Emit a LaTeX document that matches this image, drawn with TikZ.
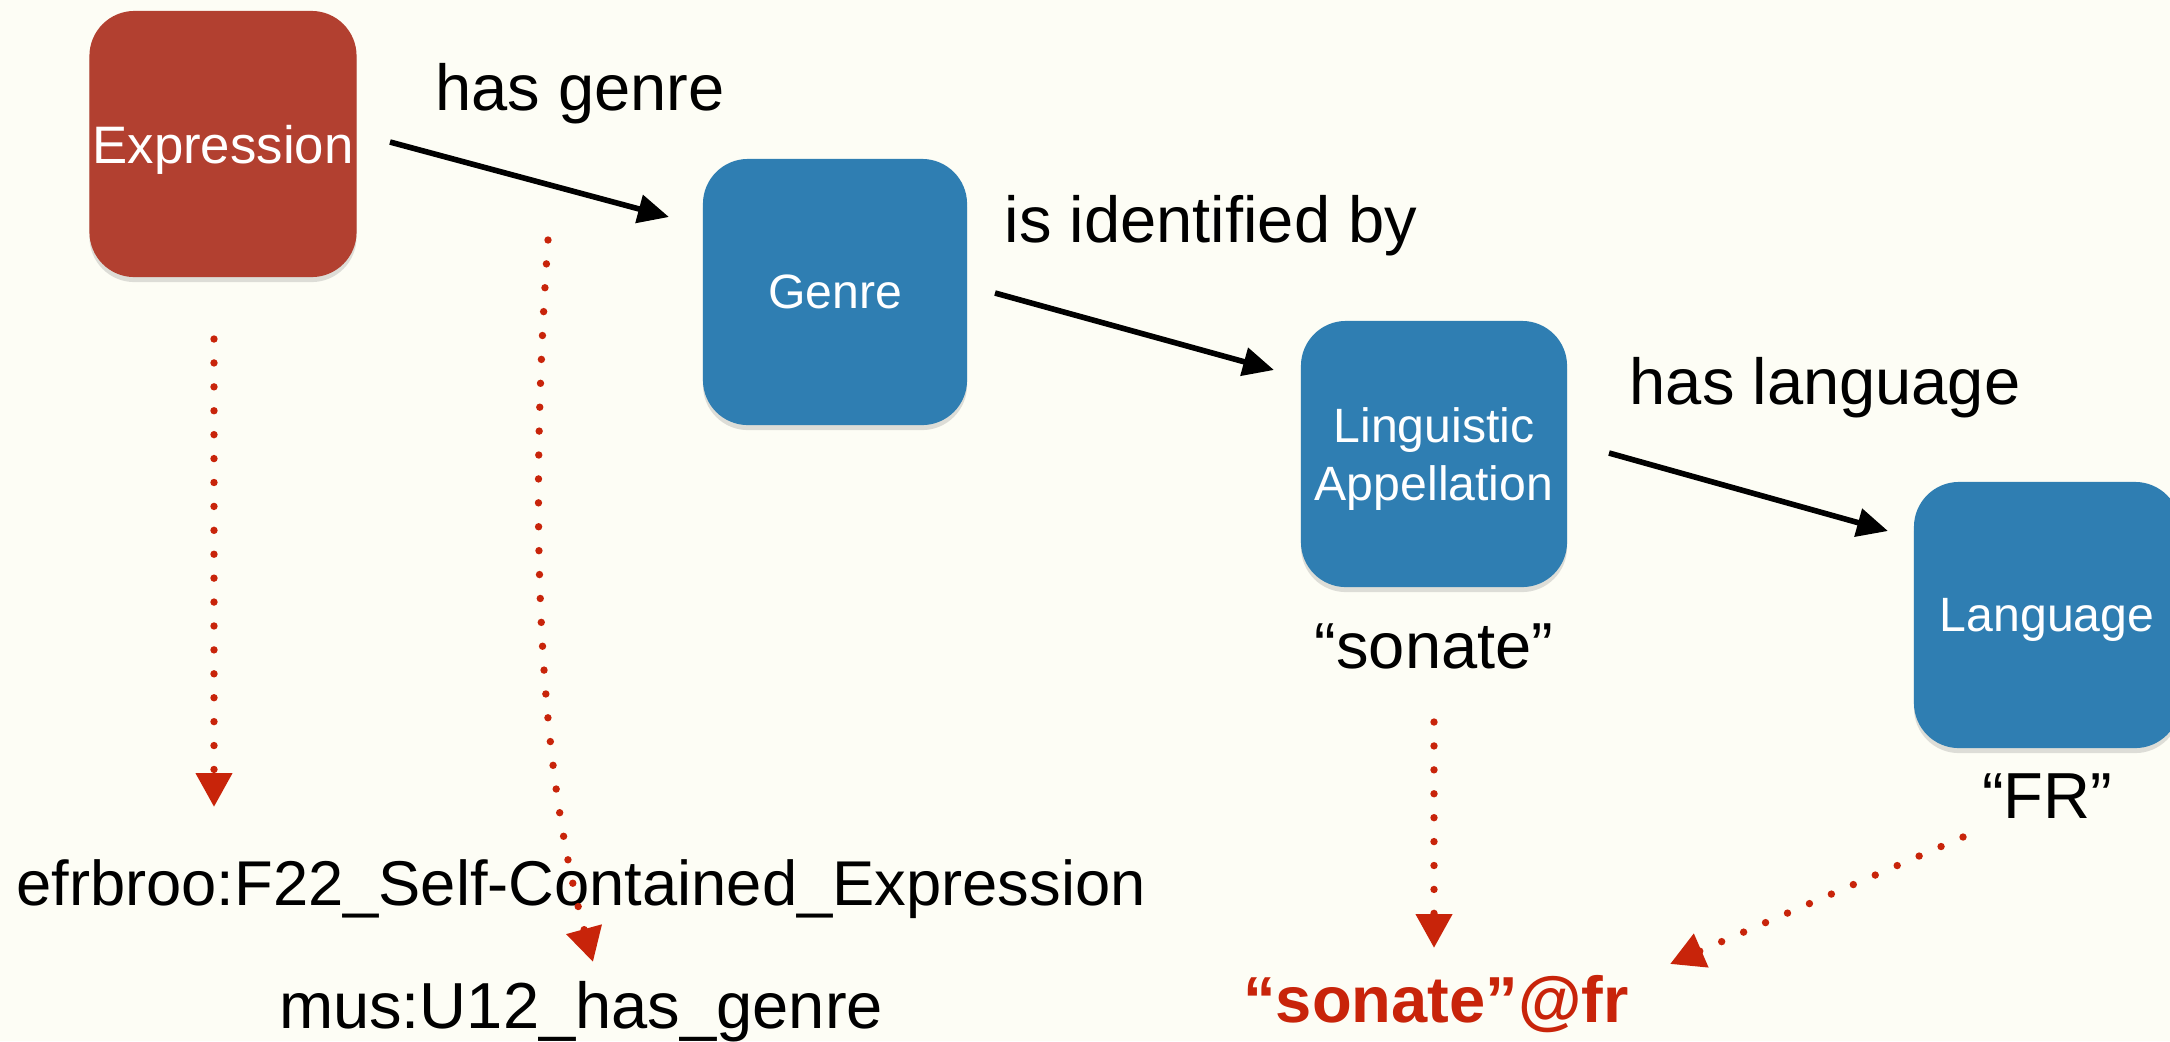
\documentclass[tikz,border=0pt]{standalone}
\usepackage{fontspec}
\setmainfont{Liberation Sans}
\usetikzlibrary{arrows.meta,shadows}
\definecolor{bg}{RGB}{253,253,245}
\definecolor{exprred}{RGB}{178,64,48}
\definecolor{boxblue}{RGB}{47,126,178}
\definecolor{dotred}{RGB}{200,36,10}
\tikzset{
 box/.style={rounded corners=0.45cm, minimum height=2.66cm, inner sep=0pt, text=white, align=center, text depth=0pt,
   font=\fontsize{13.7pt}{16.5pt}\selectfont,
   drop shadow={shadow xshift=0pt, shadow yshift=-0.05cm, opacity=0.25}},
 lbl/.style={anchor=base, inner sep=0pt, font=\fontsize{18.5pt}{22pt}\selectfont},
 rel/.style={line width=1.6pt, -{Triangle[length=0.31cm,width=0.28cm]}},
 dotarrow/.style={dotred, line width=2.1pt, line cap=round, dash pattern=on 0pt off 6.8pt, -{Triangle[length=0.34cm,width=0.35cm]}},
}
\begin{document}
\begin{tikzpicture}[x=0.01cm,y=-0.01cm]
\fill[bg] (0,0) rectangle (2170,1041);
\useasboundingbox (0,0) rectangle (2170,1041);
% boxes
\node[box, fill=exprred, minimum width=2.67cm, font=\fontsize{15pt}{18pt}\selectfont] (expr) at (223,144) {Expression};
\node[box, fill=boxblue, minimum width=2.64cm] (genre) at (835,292) {Genre};
\node[box, fill=boxblue, minimum width=2.66cm] (ling) at (1434,454) {Linguistic\\Appellation};
\node[box, fill=boxblue, minimum width=2.66cm] (lang) at (2047,615) {Language};
% labels
\node[lbl] (hasgenre) at (580,110) {has genre};
\node[lbl] (isid) at (1211,242) {is identified by};
\node[lbl] (haslang) at (1825,404) {has language};
\node[lbl] (sonate) at (1434,668) {“sonate”};
\node[lbl] (fr) at (2047,818) {“FR”};
\node[lbl, font=\fontsize{18pt}{22pt}\selectfont] (f22) at (581,905) {efrbroo:F22\_Self-Contained\_Expression};
\node[lbl] (u12) at (581,1028) {mus:U12\_has\_genre};
\node[lbl, text=dotred, font=\bfseries\fontsize{18.5pt}{22pt}\selectfont] (lit) at (1436,1022) {“sonate”@fr};
% black relation arrows
\coordinate (r1s) at (390,142); \coordinate (r1e) at (669,217);
\coordinate (r2s) at (995,293); \coordinate (r2e) at (1274,370);
\coordinate (r3s) at (1609,453); \coordinate (r3e) at (1888,531);
\draw[rel] (r1s) -- (r1e);
\draw[rel] (r2s) -- (r2e);
\draw[rel] (r3s) -- (r3e);
% red dotted mapping arrows
\coordinate (d1s) at (214,339); \coordinate (d1e) at (214,807);
\coordinate (d2s) at (548,240); \coordinate (d2e) at (593,962);
\coordinate (d3s) at (1434,722); \coordinate (d3e) at (1434,948);
\coordinate (d4s) at (1963,837); \coordinate (d4e) at (1670,964);
\draw[dotarrow] (d1s) -- (d1e);
\draw[dotarrow] (d2s) .. controls (530,500) and (535,750) .. (d2e);
\draw[dotarrow] (d3s) -- (d3e);
\draw[dotarrow] (d4s) -- (d4e);
\end{tikzpicture}
\end{document}
